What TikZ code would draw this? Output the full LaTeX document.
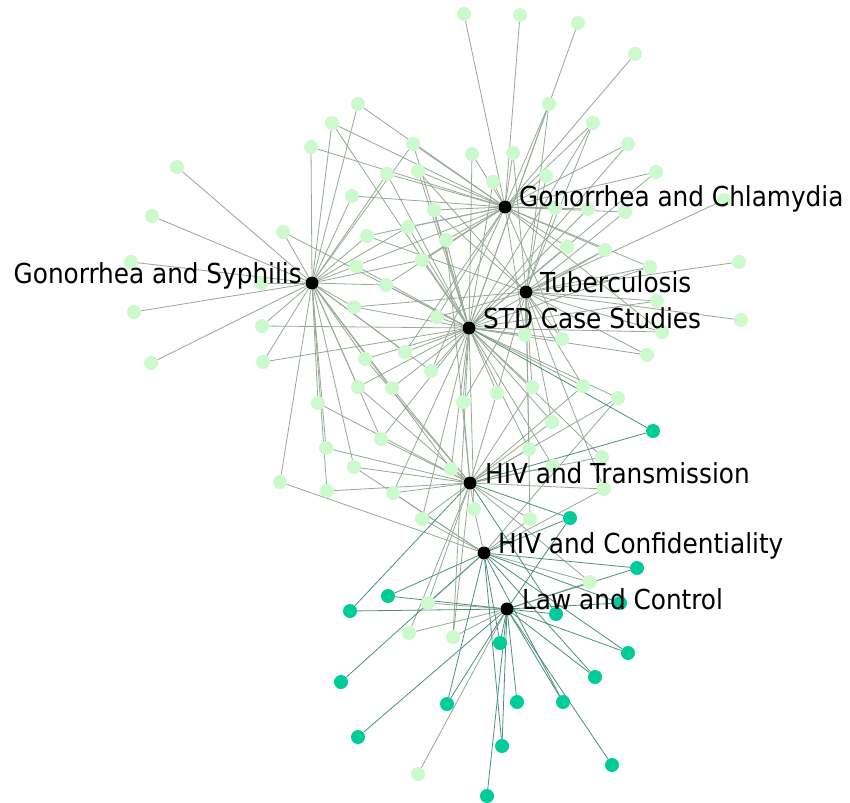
\documentclass[tikz,border=0pt]{standalone}
\usepackage{fontspec}
\newfontfamily\labfont{DejaVu Sans Condensed}
\definecolor{leafc}{RGB}{205,250,205}
\definecolor{tealc}{RGB}{0,204,153}
\definecolor{ledgec}{RGB}{150,168,150}
\definecolor{tedgec}{RGB}{75,145,122}
\pgfdeclarelayer{bg}
\pgfdeclarelayer{paper}
\pgfsetlayers{paper,bg,main}
\begin{document}
\begin{tikzpicture}[x=1pt,y=-1pt,
  leaf/.style={circle,fill=leafc,inner sep=0pt,minimum size=14pt},
  tealn/.style={circle,fill=tealc,inner sep=0pt,minimum size=14pt},
  hub/.style={circle,fill=black,inner sep=0pt,minimum size=13pt},
  ledge/.style={draw=ledgec,line width=0.8pt},
  tedge/.style={draw=tedgec,line width=0.8pt},
  lab/.style={font=\labfont\fontsize{27.5}{30}\selectfont,inner sep=0pt,text=black}]
\begin{pgfonlayer}{paper}
\fill[white] (0,0) rectangle (850,802);
\end{pgfonlayer}
\useasboundingbox (0,0) rectangle (850,802);
% hubs
\node[hub] (gc) at (505,207) {};
\node[hub] (tb) at (526,292) {};
\node[hub] (std) at (469,328) {};
\node[hub] (gs) at (312,283) {};
\node[hub] (ht) at (470,483) {};
\node[hub] (hc) at (484,553) {};
\node[hub] (lc) at (507,609) {};
% light leaves
\foreach \n/\px/\py in {
l1/464/14, l2/520/15, l3/578/23, l4/635/54, l5/549/104, l6/358/104, l7/332/123,
l8/311/147, l9/413/144, l10/472/154, l11/513/153, l12/593/123, l13/628/144,
l14/177/167, l15/387/174, l16/418/171, l17/493/182, l18/546/176, l19/656/172,
l20/352/196, l21/434/210, l22/555/208, l23/588/209, l24/625/212, l25/724/200,
l26/152/216, l27/283/232, l28/367/236, l29/408/227, l30/446/240, l31/567/247,
l32/605/250, l33/739/262, l34/131/262, l35/356/266, l36/422/260, l37/386/285,
l38/261/283, l39/650/267, l40/134/312, l41/262/326, l42/151/363, l43/263/362,
l44/280/482, l45/354/307, l46/437/317, l47/405/352, l48/365/359, l49/431/371,
l50/358/387, l51/392/388, l52/318/403, l53/463/402, l54/497/393, l55/532/387,
l56/525/335, l57/562/339, l58/662/332, l59/657/301, l60/741/320, l61/647/355,
l62/583/386, l63/618/398, l64/552/422, l65/381/439, l66/326/448, l67/354/467,
l68/529/449, l69/451/469, l70/327/491, l71/393/493, l72/474/509, l73/422/519,
l74/530/519, l75/553/466, l76/602/457, l77/604/489, l78/428/603, l79/409/633,
l80/453/637, l81/418/774, l82/590/582}
  \node[leaf] (\n) at (\px,\py) {};
% teal leaves
\foreach \n/\px/\py in {
t1/653/431, t2/570/518, t3/637/568, t4/620/603, t5/556/614, t6/388/596,
t7/350/611, t8/500/643, t9/628/653, t10/595/677, t11/341/682, t12/447/704,
t13/517/702, t14/563/702, t15/358/737, t16/502/746, t17/487/796, t18/612/765}
  \node[tealn] (\n) at (\px,\py) {};
\begin{pgfonlayer}{bg}
\foreach \a/\b in {
l1/gc, l2/gc, l3/std, l4/gc, l5/gc, l5/std, l5/tb, l6/gs, l6/gc,
l7/gs, l7/gc, l7/std, l8/gs, l8/gc, l9/gc, l9/std, l9/gs, l10/gc, l10/std,
l11/gc, l11/tb, l12/gc, l12/std, l12/tb, l13/gc, l13/std, l14/gs,
l15/gs, l15/gc, l15/std, l16/gc, l16/tb, l16/std, l17/gc, l17/std,
l18/gc, l18/tb, l19/gc, l19/std, l20/gs, l20/gc, l21/gc, l21/std, l21/tb,
l22/gc, l22/tb, l23/gc, l23/std, l24/gc, l24/tb, l25/tb, l26/gs,
l27/gs, l27/std, l28/gs, l28/gc, l28/tb, l29/gc, l29/std, l29/gs,
l30/gc, l30/std, l30/ht, l31/gc, l31/std, l32/gc, l32/std, l32/tb, l33/tb,
l34/gs, l35/gs, l35/gc, l35/std, l36/gc, l36/std, l36/gs, l37/gs, l37/std, l37/gc,
l38/gs, l39/gc, l39/tb, l39/std, l40/gs, l41/gs, l41/std, l42/gs, l43/gs, l43/std,
l44/gs, l44/hc, l45/gs, l45/std, l45/tb, l46/std, l46/gc, l46/tb,
l47/std, l47/gs, l47/gc, l48/gs, l48/std, l48/ht, l49/std, l49/gs, l49/gc,
l50/gs, l50/std, l50/ht, l51/gs, l51/std, l51/ht, l52/gs, l52/ht,
l53/std, l53/tb, l53/ht, l54/std, l54/tb, l54/ht, l55/tb, l55/std, l55/ht,
l56/tb, l56/std, l56/gc, l57/tb, l57/std, l57/gc, l58/tb, l58/gc, l58/std,
l59/tb, l59/std, l60/tb, l61/std, l61/tb, l62/std, l62/tb, l62/ht,
l63/std, l63/ht, l63/hc, l64/tb, l64/std, l64/ht, l65/gs, l65/std, l65/ht,
l66/gs, l66/ht, l67/gs, l67/ht, l67/hc, l68/std, l68/ht, l68/tb,
l69/std, l69/gs, l69/ht, l70/gs, l70/ht, l71/std, l71/ht, l71/hc,
l72/ht, l72/std, l72/hc, l73/ht, l73/std, l73/hc, l74/ht, l74/tb, l74/hc,
l75/ht, l75/std, l76/std, l76/ht, l77/ht, l77/tb, l77/hc,
l78/hc, l78/lc, l78/ht, l79/ht, l79/lc, l80/ht, l80/lc, l80/std, l81/lc,
l82/hc, l82/lc, l82/ht}
  \draw[ledge] (\a) -- (\b);
\foreach \a/\b in {
t1/std, t1/ht, t2/ht, t2/hc, t2/lc, t3/hc, t3/lc, t4/lc, t4/hc, t5/lc, t5/ht,
t6/hc, t6/lc, t7/lc, t7/ht, t8/lc, t8/hc, t9/lc, t9/hc, t10/lc, t10/hc,
t11/hc, t12/lc, t12/hc, t13/lc, t14/lc, t14/hc, t15/lc, t16/lc, t16/hc,
t17/lc, t18/lc}
  \draw[tedge] (\a) -- (\b);
\end{pgfonlayer}
% labels
\node[lab,anchor=base west] (lgc) at ([xshift=14pt]gc.center) {Gonorrhea and Chlamydia};
\node[lab,anchor=base west] (ltb) at ([xshift=14pt]tb.center) {Tuberculosis};
\node[lab,anchor=base west] (lstd) at ([xshift=14pt]std.center) {STD Case Studies};
\node[lab,anchor=base east] (lgs) at ([xshift=-10pt]gs.center) {Gonorrhea and Syphilis};
\node[lab,anchor=base west] (lht) at ([xshift=15pt]ht.center) {HIV and Transmission};
\node[lab,anchor=base west] (lhc) at ([xshift=14pt]hc.center) {HIV and Confidentiality};
\node[lab,anchor=base west] (llc) at ([xshift=15pt]lc.center) {Law and Control};
\end{tikzpicture}
\end{document}
